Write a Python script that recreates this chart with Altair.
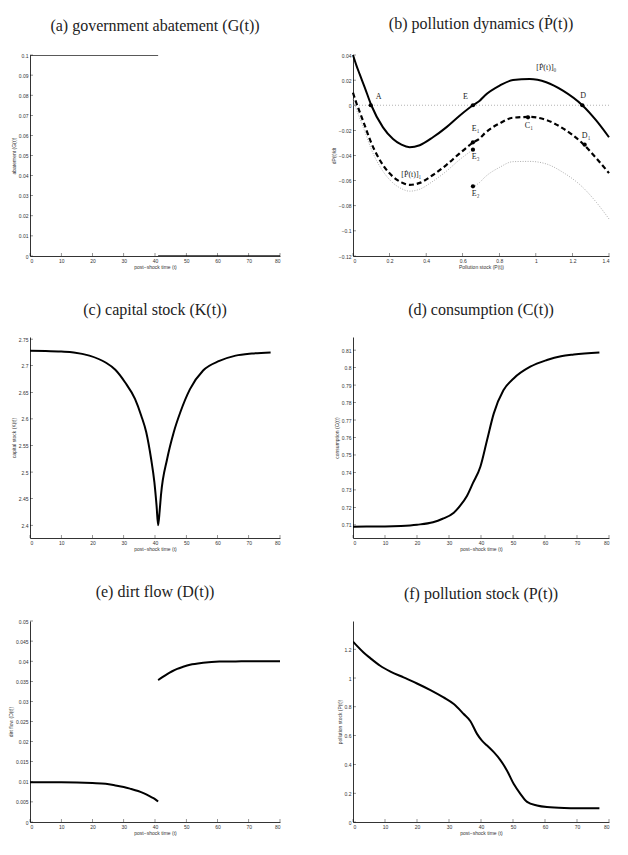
import altair as alt
import pandas as pd

# ---------------- data ----------------
# (a) government abatement
a_t1 = [0, 41]
a_g1 = [0.1, 0.1]
a_t2 = [41, 80]
a_g2 = [0.0, 0.0]

# (b) pollution dynamics
b_x = [0, 0.018, 0.036, 0.064, 0.1, 0.164, 0.219, 0.265, 0.31, 0.365, 0.437, 0.51, 0.583,
       0.656, 0.693, 0.72, 0.802, 0.875, 0.966, 1.057, 1.148, 1.254, 1.331, 1.4]
b_solid = [0.04, 0.032, 0.0249, 0.0143, 0.0, -0.0176, -0.0269, -0.0314, -0.0334, -0.0318, -0.0255,
           -0.0176, -0.0083, 0.0, 0.0036, 0.0076, 0.0156, 0.0201, 0.0209, 0.0183, 0.0116, 0.0,
           -0.0123, -0.0255]
b_dashed = [0.01, 0.002, -0.005, -0.016, -0.03, -0.0476, -0.0569, -0.0614, -0.0634, -0.0618, -0.0555,
            -0.0476, -0.0383, -0.0298, -0.0264, -0.0224, -0.0144, -0.0099, -0.0093, -0.0117, -0.0184,
            -0.0302, -0.0423, -0.054]
b_x1 = [0, 0.018, 0.036, 0.064, 0.1, 0.164, 0.219, 0.265, 0.31, 0.365, 0.437, 0.51, 0.583, 0.656]
b_dot1 = [0.005, -0.003, -0.0101, -0.0207, -0.035, -0.0526, -0.0619, -0.0664, -0.0684, -0.0668,
          -0.0605, -0.0526, -0.0433, -0.0354]
b_x2 = [0.656, 0.693, 0.72, 0.802, 0.875, 0.966, 1.057, 1.148, 1.254, 1.331, 1.4]
b_dot2 = [-0.065, -0.0614, -0.0574, -0.0494, -0.0449, -0.0447, -0.0467, -0.0534, -0.065, -0.0773, -0.0905]
b_zero_x = [0, 1.4]
b_zero_y = [0, 0]
pt_x = [0.097, 0.656, 1.254, 0.656, 0.656, 0.656, 0.957, 1.267]
pt_y = [0.0, 0.0, 0.0, -0.0295, -0.0354, -0.0645, -0.0096, -0.0314]
lab_text = ["A", "E", "D", "E\u2081", "E\u2083", "E\u2082", "C\u2081", "D\u2081",
            "[\u1E56(t)]\u2080", "[\u1E56(t)]\u2081"]
lab_x = [0.14, 0.615, 1.258, 0.671, 0.671, 0.671, 0.962, 1.275, 1.057, 0.319]
lab_y = [0.0067, 0.0067, 0.0076, -0.019, -0.0415, -0.0707, -0.0168, -0.0247, 0.0294, -0.0555]

# (c) capital stock
c_t = [0, 5, 10, 14, 19, 24.2, 27.3, 30.4, 33.6, 35.6, 37.2, 38.75, 39.8, 40.5, 41,
       41.5, 41.9, 43.9, 46, 48.1, 51.2, 55.4, 60.6, 65.8, 71, 77]
c_k = [2.728, 2.7275, 2.7265, 2.725, 2.719, 2.706, 2.6925, 2.669, 2.6375, 2.606, 2.575, 2.525,
       2.481, 2.437, 2.40, 2.428, 2.456, 2.525, 2.575, 2.6125, 2.656, 2.691, 2.709, 2.719,
       2.723, 2.725]

# (d) consumption
d_t = [0, 10, 15, 20, 25, 28, 31.5, 33.5, 35.6, 37.5, 39.8, 41.9, 44, 47, 50.2, 55.4, 60.6,
       65, 69, 77]
d_c = [0.709, 0.7091, 0.7094, 0.7101, 0.7115, 0.7135, 0.717, 0.721, 0.7265, 0.734, 0.7433,
       0.7586, 0.7738, 0.787, 0.7938, 0.8005, 0.8043, 0.8065, 0.8075, 0.8087]

# (e) dirt flow
e_t1 = [0, 10, 15, 20, 24.2, 27.3, 30, 32, 34.6, 36.5, 38.8, 40, 41]
e_d1 = [0.0099, 0.0099, 0.00985, 0.0097, 0.0095, 0.0091, 0.0087, 0.0083, 0.0077, 0.0071,
        0.0062, 0.0057, 0.0051]
e_t2 = [41, 42.5, 43.9, 45.5, 47.1, 49, 51.2, 55.4, 60.6, 65.8, 72, 80]
e_d2 = [0.0353, 0.0361, 0.0368, 0.0375, 0.0381, 0.0386, 0.0391, 0.0396, 0.0399, 0.03995,
        0.04, 0.04]

# (f) pollution stock
f_t = [0, 1.25, 3.3, 5.4, 8.5, 11.7, 15.8, 20, 24.2, 28.3, 31.5, 34.6, 36.7, 38.75, 40.3,
       41.9, 44, 46, 48.1, 50.2, 52.3, 54.4, 57.5, 60.6, 66, 77]
f_p = [1.253, 1.223, 1.177, 1.138, 1.085, 1.045, 1.004, 0.962, 0.916, 0.865, 0.819, 0.75,
       0.70, 0.612, 0.565, 0.531, 0.485, 0.432, 0.358, 0.265, 0.196, 0.14, 0.115, 0.104,
       0.098, 0.095]

# tick values
t_ticks = [0, 10, 20, 30, 40, 50, 60, 70, 80]
a_yticks = [0, 0.01, 0.02, 0.03, 0.04, 0.05, 0.06, 0.07, 0.08, 0.09, 0.1]
b_xticks = [0, 0.2, 0.4, 0.6, 0.8, 1, 1.2, 1.4]
b_yticks = [-0.12, -0.1, -0.08, -0.06, -0.04, -0.02, 0, 0.02, 0.04]
c_yticks = [2.4, 2.45, 2.5, 2.55, 2.6, 2.65, 2.7, 2.75]
d_yticks = [0.71, 0.72, 0.73, 0.74, 0.75, 0.76, 0.77, 0.78, 0.79, 0.8, 0.81]
e_yticks = [0, 0.005, 0.01, 0.015, 0.02, 0.025, 0.03, 0.035, 0.04, 0.045, 0.05]
f_yticks = [0, 0.2, 0.4, 0.6, 0.8, 1, 1.2]

WL, WR, H = 250, 256, 201
TX = "post\u2212shock time (t)"
FMT = ".4~r"
TICK_LEN = 3


def seg_df(pairs):
    rows = []
    for i, (xs, ys) in enumerate(pairs):
        for x, y in zip(xs, ys):
            rows.append({"x": x, "y": y, "seg": i})
    return pd.DataFrame(rows)


def scales(xdom, ydom):
    return (alt.Scale(domain=xdom, nice=False, zero=False),
            alt.Scale(domain=ydom, nice=False, zero=False))


def xenc(sx, ticks, title):
    return alt.X("x:Q", scale=sx,
                 axis=alt.Axis(title=title, values=ticks, format=FMT, labelOverlap=False))


def yenc(sy, ticks, title):
    return alt.Y("y:Q", scale=sy,
                 axis=alt.Axis(title=title, values=ticks, format=FMT, labelOverlap=False))


def inward_ticks(ex, ey, xt, yt):
    """small tick marks drawn inside the plot, matlab style"""
    xtk = alt.Chart(pd.DataFrame({"x": xt})).mark_tick(
        color="black", thickness=0.6, size=TICK_LEN, orient="vertical").encode(
        x=ex, y=alt.value(H - TICK_LEN / 2))
    ytk = alt.Chart(pd.DataFrame({"y": yt})).mark_tick(
        color="black", thickness=0.6, size=TICK_LEN, orient="horizontal").encode(
        y=ey, x=alt.value(TICK_LEN / 2))
    return [xtk, ytk]


def simple_panel(pairs, xdom, xt, xtitle, ydom, yt, ytitle, title, w, color="black", sw=2):
    sx, sy = scales(xdom, ydom)
    ex, ey = xenc(sx, xt, xtitle), yenc(sy, yt, ytitle)
    line = alt.Chart(seg_df(pairs)).mark_line(color=color, strokeWidth=sw, interpolate="monotone",
                                              clip=True).encode(x=ex, y=ey, detail="seg:N")
    return alt.layer(line, *inward_ticks(ex, ey, xt, yt)).properties(
        width=w, height=H, title=title)


pa = simple_panel([(a_t1, a_g1), (a_t2, a_g2)], [0, 80], t_ticks, TX, [0, 0.1], a_yticks,
                  "abatement (G(t))", "(a) government abatement (G(t))", WL, color="#222", sw=1.6)

# panel b
bsx, bsy = scales([0, 1.4], [-0.12, 0.04])
bx = xenc(bsx, b_xticks, "Pollution stock (P(t))")
by = yenc(bsy, b_yticks, "dP(t)/dt")
zero_l = alt.Chart(seg_df([(b_zero_x, b_zero_y)])).mark_line(
    color="#aaa", strokeWidth=0.9, strokeDash=[1, 2]).encode(x=bx, y=by)
dot_l = alt.Chart(seg_df([(b_x1, b_dot1), (b_x2, b_dot2)])).mark_line(
    color="#999", strokeWidth=0.8, strokeDash=[1, 1.5], interpolate="monotone").encode(
    x=bx, y=by, detail="seg:N")
solid_l = alt.Chart(seg_df([(b_x, b_solid)])).mark_line(
    color="black", strokeWidth=2, interpolate="monotone").encode(x=bx, y=by)
dash_l = alt.Chart(seg_df([(b_x, b_dashed)])).mark_line(
    color="black", strokeWidth=2.2, strokeDash=[5, 3], interpolate="monotone").encode(x=bx, y=by)
pts = alt.Chart(pd.DataFrame({"x": pt_x, "y": pt_y})).mark_point(
    filled=True, color="black", size=18, opacity=1).encode(x=bx, y=by)
labs = alt.Chart(pd.DataFrame({"x": lab_x, "y": lab_y, "t": lab_text})).mark_text(
    font="Liberation Serif", fontSize=8, color="#222", align="center", baseline="middle").encode(
    x=bx, y=by, text="t:N")
pb = alt.layer(zero_l, dot_l, dash_l, solid_l, pts, labs,
               *inward_ticks(bx, by, b_xticks, b_yticks)).properties(
    width=WR, height=H, title="(b) pollution dynamics (\u1E56(t))")

pc = simple_panel([(c_t, c_k)], [0, 80], t_ticks, TX, [2.376, 2.754], c_yticks,
                  "capital stock (K(t))", "(c) capital stock (K(t))", WL)
pd_ = simple_panel([(d_t, d_c)], [0, 80], t_ticks, TX, [0.7025, 0.8175], d_yticks,
                   "consumption (C(t))", "(d) consumption (C(t))", WR)
pe = simple_panel([(e_t1, e_d1), (e_t2, e_d2)], [0, 80], t_ticks, TX, [0, 0.05], e_yticks,
                  "dirt flow (D(t))", "(e) dirt flow (D(t))", WL)
pf = simple_panel([(f_t, f_p)], [0, 80], t_ticks, TX, [0, 1.396], f_yticks,
                  "pollution stock (P(t))", "(f) pollution stock (P(t))", WR)

chart = alt.concat(pa, pb, pc, pd_, pe, pf, columns=2, spacing={"row": 32, "column": 50}).properties(
    padding={"left": 0, "top": 8, "right": 5, "bottom": 5}
).configure_view(stroke=None).configure_axis(
    grid=False, domainColor="black", domainWidth=0.8, ticks=False,
    labelFont="Liberation Sans", labelFontSize=5, labelColor="#333",
    labelPadding=2, titleFont="Liberation Sans", titleFontSize=5, titleFontWeight="normal",
    titleColor="#333", titlePadding=1.5
).configure_title(
    font="Liberation Serif", fontSize=16, fontWeight="normal", color="#222", offset=19,
    anchor="middle"
)

chart.save("out.html", embed_options={"renderer": "svg", "actions": False})
